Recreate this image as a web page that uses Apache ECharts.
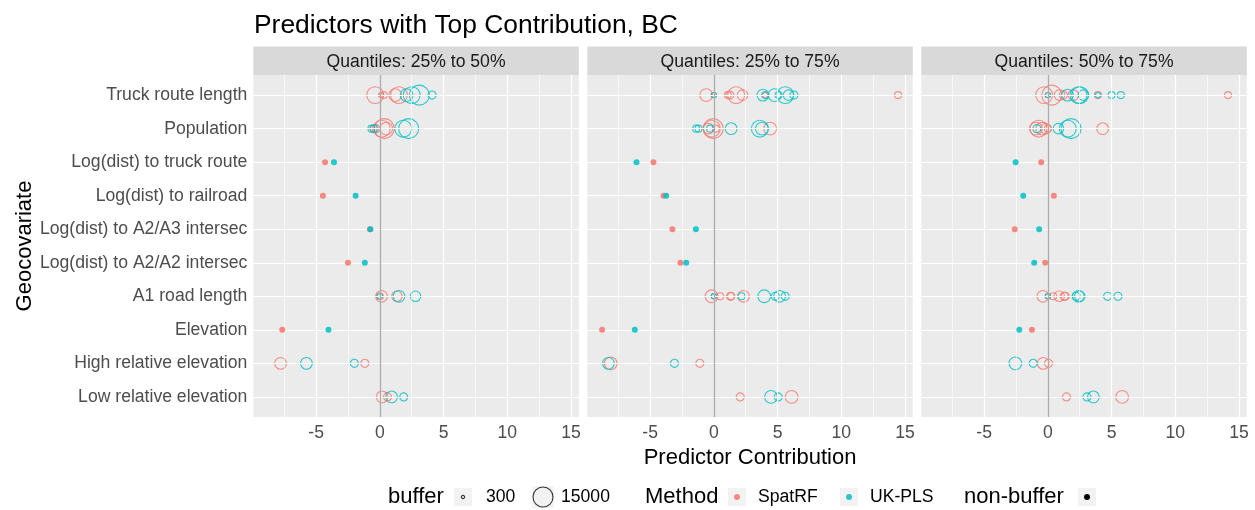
<!DOCTYPE html>
<html><head><meta charset="utf-8">
<script src="https://cdn.jsdelivr.net/npm/echarts@6/dist/echarts.min.js"></script>
<style>html,body{margin:0;padding:0;background:#fff}#c{width:1255px;height:510px}</style>
</head><body><div id="c"></div>
<script>
// ---------------- DATA ----------------
const categories = ['Truck route length','Population','Log(dist) to truck route','Log(dist) to railroad',
  'Log(dist) to A2/A3 intersec','Log(dist) to A2/A2 intersec','A1 road length','Elevation',
  'High relative elevation','Low relative elevation'];
const panelTitles = ['Quantiles: 25% to 50%','Quantiles: 25% to 75%','Quantiles: 50% to 75%'];
const xTicks = [-5, 0, 5, 10, 15];
const xMinorGrid = [-7.5, -2.5, 2.5, 7.5, 12.5];
const bufferBreaks = [300, 15000];
const methods = ['SpatRF', 'UK-PLS'];

// non-buffer predictors: [category, contribution]
const p1SpatRFNon = [['Log(dist) to truck route',-4.3],['Log(dist) to railroad',-4.47],['Log(dist) to A2/A3 intersec',-0.78],['Log(dist) to A2/A2 intersec',-2.5],['Elevation',-7.66]];
const p1UKPLSNon  = [['Log(dist) to truck route',-3.6],['Log(dist) to railroad',-1.9],['Log(dist) to A2/A3 intersec',-0.74],['Log(dist) to A2/A2 intersec',-1.18],['Elevation',-4.03]];
const p2SpatRFNon = [['Log(dist) to truck route',-4.74],['Log(dist) to railroad',-3.95],['Log(dist) to A2/A3 intersec',-3.25],['Log(dist) to A2/A2 intersec',-2.62],['Elevation',-8.77]];
const p2UKPLSNon  = [['Log(dist) to truck route',-6.07],['Log(dist) to railroad',-3.74],['Log(dist) to A2/A3 intersec',-1.41],['Log(dist) to A2/A2 intersec',-2.17],['Elevation',-6.2]];
const p3SpatRFNon = [['Log(dist) to truck route',-0.52],['Log(dist) to railroad',0.47],['Log(dist) to A2/A3 intersec',-2.6],['Log(dist) to A2/A2 intersec',-0.21],['Elevation',-1.25]];
const p3UKPLSNon  = [['Log(dist) to truck route',-2.53],['Log(dist) to railroad',-1.93],['Log(dist) to A2/A3 intersec',-0.68],['Log(dist) to A2/A2 intersec',-1.07],['Elevation',-2.24]];

// buffer predictors: [category, contribution, buffer]
const p1SpatRFBuf = [
  ['Truck route length',-0.37,10000],['Truck route length',0.05,300],['Truck route length',0.1,500],['Truck route length',0.3,1000],['Truck route length',1.2,5000],['Truck route length',1.5,10000],
  ['Population',-0.5,1000],['Population',-0.3,1500],['Population',0.15,10000],['Population',0.35,15000],['Population',0.5,5000],
  ['A1 road length',0.0,1000],['A1 road length',0.13,4000],['A1 road length',1.34,3000],
  ['High relative elevation',-7.79,4000],['High relative elevation',-1.18,1500],
  ['Low relative elevation',0.18,4000],['Low relative elevation',0.6,1500]];
const p1UKPLSBuf = [
  ['Truck route length',2.1,5000],['Truck route length',2.5,10000],['Truck route length',3.1,15000],['Truck route length',4.1,1500],
  ['Population',-0.66,1000],['Population',-0.45,1500],['Population',1.84,10000],['Population',2.26,15000],
  ['A1 road length',0.0,500],['A1 road length',1.5,4000],['A1 road length',2.8,3000],
  ['High relative elevation',-5.76,4000],['High relative elevation',-2.0,1500],
  ['Low relative elevation',0.92,4000],['Low relative elevation',1.87,1500]];
const p2SpatRFBuf = [
  ['Truck route length',-0.6,5000],['Truck route length',0.0,500],['Truck route length',1.1,1000],['Truck route length',1.26,1500],['Truck route length',1.75,10000],['Truck route length',2.25,3000],['Truck route length',4.03,500],['Truck route length',14.45,1000],
  ['Population',-0.42,3000],['Population',-0.16,10000],['Population',-0.05,15000],['Population',0.16,1000],['Population',4.42,5000],
  ['A1 road length',-0.18,5000],['A1 road length',0.0,500],['A1 road length',0.5,1000],['A1 road length',1.31,1500],['A1 road length',1.35,1000],['A1 road length',2.33,4000],
  ['High relative elevation',-8.09,5000],['High relative elevation',-1.1,1500],
  ['Low relative elevation',2.07,1500],['Low relative elevation',6.1,5000]];
const p2UKPLSBuf = [
  ['Truck route length',0.0,500],['Truck route length',3.85,4000],['Truck route length',4.03,1000],['Truck route length',4.76,5000],['Truck route length',5.08,1000],['Truck route length',5.6,10000],['Truck route length',5.86,3000],['Truck route length',6.28,1500],
  ['Population',-1.39,1000],['Population',-1.2,1000],['Population',-0.3,1000],['Population',1.36,4000],['Population',3.61,10000],['Population',3.77,5000],
  ['A1 road length',0.0,500],['A1 road length',2.17,1000],['A1 road length',3.95,5000],['A1 road length',4.82,1500],['A1 road length',5.16,4000],['A1 road length',5.6,1500],
  ['High relative elevation',-8.27,4000],['High relative elevation',-3.09,1500],
  ['Low relative elevation',4.48,5000],['Low relative elevation',5.05,1500]];
const p3SpatRFBuf = [
  ['Truck route length',-0.29,10000],['Truck route length',0.0,500],['Truck route length',0.31,15000],['Truck route length',0.91,3000],['Truck route length',1.22,1500],['Truck route length',2.0,3000],['Truck route length',3.93,1000],['Truck route length',14.14,1000],
  ['Population',-0.94,5000],['Population',-0.73,10000],['Population',-0.44,5000],['Population',-0.16,3000],['Population',0.0,1000],['Population',4.3,4000],
  ['A1 road length',-0.39,4000],['A1 road length',0.0,500],['A1 road length',0.42,1000],['A1 road length',0.89,3000],['A1 road length',1.28,1500],['A1 road length',1.36,1500],
  ['High relative elevation',-0.36,4000],['High relative elevation',0.05,1500],
  ['Low relative elevation',1.46,1500],['Low relative elevation',5.83,5000]];
const p3UKPLSBuf = [
  ['Truck route length',0.0,500],['Truck route length',1.54,4000],['Truck route length',2.4,10000],['Truck route length',2.53,10000],['Truck route length',2.79,3000],['Truck route length',3.93,500],['Truck route length',5.0,1000],['Truck route length',5.73,1000],
  ['Population',-0.86,1500],['Population',0.83,3000],['Population',1.56,10000],['Population',1.82,15000],
  ['A1 road length',0.0,500],['A1 road length',2.21,1500],['A1 road length',2.4,4000],['A1 road length',2.5,3000],['A1 road length',4.69,1500],['A1 road length',5.5,1500],
  ['High relative elevation',-2.55,5000],['High relative elevation',-1.15,1500],
  ['Low relative elevation',3.07,1500],['Low relative elevation',3.57,4000]];

// ---------------- STYLE / LAYOUT ----------------
const FONT = 'Liberation Sans, Arial, Helvetica, sans-serif';
const RED = '#F8766D', CYAN = '#00BFC4';
const GL = [253.3, 587.3, 921.3], GW = 325.5, GT = 75, GH = 342;
const STRIP_TOP = 46.5, STRIP_H = 28.5;
const XMIN = -9.93, XMAX = 15.61;

const panelData = [
  {sb: p1SpatRFBuf, ub: p1UKPLSBuf, sn: p1SpatRFNon, un: p1UKPLSNon},
  {sb: p2SpatRFBuf, ub: p2UKPLSBuf, sn: p2SpatRFNon, un: p2UKPLSNon},
  {sb: p3SpatRFBuf, ub: p3UKPLSBuf, sn: p3SpatRFNon, un: p3UKPLSNon}
];
const sizeOf = b => 3.33 + 16.67 * Math.sqrt((b - 300) / 14700);
const catIdx = categories.map((c, i) => i);

const grids = [], xAxes = [], yAxes = [], series = [];
for (let p = 0; p < 3; p++) {
  grids.push({left: GL[p], top: GT, width: GW, height: GH, show: true,
    backgroundColor: '#EBEBEB', borderWidth: 0});
  xAxes.push({type: 'value', gridIndex: p, min: XMIN, max: XMAX,
    axisLine: {show: false}, splitLine: {show: false},
    axisTick: {show: true, customValues: xTicks, length: 4, lineStyle: {color: '#333', width: 1}},
    axisLabel: {customValues: xTicks, fontSize: 17.6, color: '#4D4D4D', fontFamily: FONT, margin: 7},
    name: p === 1 ? 'Predictor Contribution' : '', nameLocation: 'middle', nameGap: 25,
    nameTextStyle: {fontSize: 22, color: '#000', fontFamily: FONT}});
  yAxes.push({type: 'value', gridIndex: p, min: -0.6, max: 9.6, inverse: true,
    axisLine: {show: false}, splitLine: {show: false},
    axisTick: {show: p === 0, customValues: catIdx, length: 4, lineStyle: {color: '#333', width: 1}},
    axisLabel: {show: p === 0, customValues: catIdx, formatter: v => categories[v],
      fontSize: 17.6, color: '#4D4D4D', fontFamily: FONT, margin: 6},
    name: p === 0 ? 'Geocovariate' : '', nameLocation: 'middle', nameRotate: 90, nameGap: 217,
    nameTextStyle: {fontSize: 22, color: '#000', fontFamily: FONT}});

  // panel grid lines (major, minor, horizontal) via markLine on the panel's scales
  const gl = [];
  xMinorGrid.forEach(v => gl.push({xAxis: v, lineStyle: {width: 0.6}}));
  xTicks.forEach(v => gl.push({xAxis: v, lineStyle: {width: 1.2}}));
  catIdx.forEach(v => gl.push({yAxis: v, lineStyle: {width: 1.2}}));
  series.push({type: 'scatter', xAxisIndex: p, yAxisIndex: p, data: [], z: 1, silent: true,
    markLine: {silent: true, symbol: ['none', 'none'], label: {show: false}, animation: false,
      lineStyle: {color: '#FFFFFF', type: 'solid'}, emphasis: {disabled: true}, data: gl}});
  series.push({type: 'scatter', xAxisIndex: p, yAxisIndex: p, data: [], z: 2, silent: true,
    markLine: {silent: true, symbol: ['none', 'none'], label: {show: false}, animation: false,
      lineStyle: {color: '#ABABAB', type: 'solid', width: 1.3}, emphasis: {disabled: true},
      data: [{xAxis: 0}]}});

  const pd = panelData[p];
  const buf = (arr, color) => ({type: 'scatter', xAxisIndex: p, yAxisIndex: p, z: 4, silent: true, animation: false,
    data: arr.map(d => [d[1], categories.indexOf(d[0]), d[2]]),
    symbol: 'circle', symbolSize: v => sizeOf(v[2]),
    itemStyle: {color: 'rgba(0,0,0,0)', borderColor: color, borderWidth: 1.1, opacity: 0.8},
    emphasis: {disabled: true}});
  const non = (arr, color) => ({type: 'scatter', xAxisIndex: p, yAxisIndex: p, z: 5, silent: true, animation: false,
    data: arr.map(d => [d[1], categories.indexOf(d[0])]),
    symbol: 'circle', symbolSize: 6,
    itemStyle: {color: color, opacity: 0.85}, emphasis: {disabled: true}});
  series.push(buf(pd.sb, RED), buf(pd.ub, CYAN), non(pd.sn, RED), non(pd.un, CYAN));
}

// strips + legend (graphic)
const graphic = [];
for (let p = 0; p < 3; p++) {
  graphic.push({type: 'rect', left: GL[p], top: STRIP_TOP, shape: {width: GW, height: STRIP_H},
    style: {fill: '#D9D9D9'}, silent: true});
  graphic.push({type: 'text', x: GL[p] + GW / 2, y: STRIP_TOP + STRIP_H / 2 + 1,
    style: {text: panelTitles[p], fontSize: 17.6, fill: '#1A1A1A', fontFamily: FONT,
      align: 'center', verticalAlign: 'middle'}, silent: true});
}
const LY = 497; // legend row centre
const KEY = 18;
function legText(x, t, size) {
  graphic.push({type: 'text', x: x, y: LY, style: {text: t, fontSize: size, fill: '#000',
    fontFamily: FONT, align: 'left', verticalAlign: 'middle'}, silent: true});
}
function legKey(cx, w, inner) {
  graphic.push({type: 'rect', x: cx - w / 2, y: LY - w / 2, shape: {width: w, height: w},
    style: {fill: '#F2F2F2'}, silent: true});
  graphic.push(Object.assign({x: cx, y: LY, silent: true}, inner));
}
legText(388, 'buffer', 22);
legKey(463, KEY, {type: 'circle', shape: {r: sizeOf(bufferBreaks[0]) / 2}, style: {fill: 'none', stroke: '#333', lineWidth: 1.1}});
legText(486, String(bufferBreaks[0]), 17.6);
legKey(543, 21.5, {type: 'circle', shape: {r: sizeOf(bufferBreaks[1]) / 2}, style: {fill: 'none', stroke: '#333', lineWidth: 1.1}});
legText(561, String(bufferBreaks[1]), 17.6);
legText(645, 'Method', 22);
legKey(737, KEY, {type: 'circle', shape: {r: 3}, style: {fill: RED, opacity: 0.85}});
legText(758, methods[0], 17.6);
legKey(849, KEY, {type: 'circle', shape: {r: 3}, style: {fill: CYAN, opacity: 0.85}});
legText(870, methods[1], 17.6);
legText(964, 'non-buffer', 22);
legKey(1087, KEY, {type: 'circle', shape: {r: 3}, style: {fill: '#000'}});

const chart = echarts.init(document.getElementById('c'), null, {renderer: 'canvas'});
chart.setOption({
  animation: false,
  backgroundColor: '#FFFFFF',
  title: {text: 'Predictors with Top Contribution, BC', left: 254, top: 13, padding: 0,
    textStyle: {fontSize: 26.4, fontWeight: 'normal', color: '#000', fontFamily: FONT}},
  grid: grids, xAxis: xAxes, yAxis: yAxes, series: series, graphic: graphic
});
</script></body></html>
